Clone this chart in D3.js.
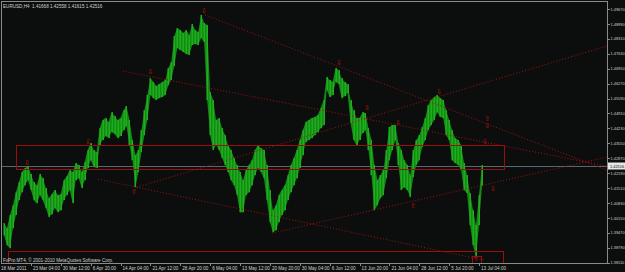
<!DOCTYPE html>
<html>
<head>
<meta charset="utf-8">
<script src="https://cdn.jsdelivr.net/npm/d3@7"></script>
<style>
body{margin:0;background:#0b0e0d;}
svg{display:block;}
text{font-family:"Liberation Sans",Arial,sans-serif;}
</style>
</head>
<body>
<svg id="chart"></svg>
<script>
// EURUSD H4 bars (high / low per bar)
var barHigh = [1.3991,1.3968,1.4028,1.4073,1.4132,1.4178,1.4224,1.4242,1.4251,1.4215,
  1.4178,1.4164,1.4215,1.4196,1.4151,1.4105,1.4123,1.4142,1.4119,1.4123,
  1.4187,1.4205,1.4233,1.4224,1.4265,1.4256,1.4224,1.4269,1.4324,1.4356,
  1.4324,1.4315,1.4424,1.4461,1.4470,1.4452,1.4497,1.4479,1.4461,1.4470,
  1.4506,1.4525,1.4461,1.4370,1.4301,1.4324,1.4415,1.4506,1.4575,1.4652,
  1.4634,1.4616,1.4625,1.4634,1.4643,1.4698,1.4725,1.4844,1.4880,1.4871,
  1.4858,1.4871,1.4848,1.4899,1.4871,1.4862,1.4940,1.4903,1.4894,1.4589,
  1.4552,1.4461,1.4470,1.4424,1.4392,1.4347,1.4324,1.4288,1.4256,1.4224,
  1.4187,1.4233,1.4256,1.4278,1.4324,1.4347,1.4333,1.4324,1.4256,1.4142,
  1.4050,1.4073,1.4119,1.4142,1.4164,1.4210,1.4256,1.4288,1.4324,1.4370,
  1.4415,1.4452,1.4461,1.4470,1.4475,1.4484,1.4516,1.4552,1.4657,1.4643,
  1.4634,1.4698,1.4689,1.4652,1.4634,1.4625,1.4552,1.4506,1.4470,1.4470,
  1.4497,1.4493,1.4424,1.4370,1.4256,1.4187,1.4210,1.4233,1.4324,1.4429,
  1.4438,1.4438,1.4356,1.4324,1.4278,1.4256,1.4210,1.4324,1.4370,1.4392,
  1.4429,1.4470,1.4529,1.4552,1.4566,1.4575,1.4561,1.4552,1.4506,1.4461,
  1.4415,1.4379,1.4370,1.4347,1.4265,1.4210,1.4128,1.4050,1.3982,1.4119,
  1.42558];
var barLow = [1.3936,1.3891,1.3877,1.3968,1.4028,1.4096,1.4132,1.4164,1.4187,1.4142,
  1.4096,1.4082,1.4119,1.4096,1.4060,1.4019,1.4032,1.4060,1.4041,1.4050,
  1.4096,1.4119,1.4142,1.4082,1.4187,1.4196,1.4151,1.4187,1.4242,1.4278,
  1.4247,1.4242,1.4347,1.4370,1.4388,1.4379,1.4406,1.4397,1.4379,1.4388,
  1.4415,1.4433,1.4347,1.4278,1.4155,1.4224,1.4315,1.4392,1.4461,1.4575,
  1.4561,1.4552,1.4561,1.4566,1.4575,1.4620,1.4643,1.4707,1.4789,1.4780,
  1.4771,1.4762,1.4757,1.4803,1.4807,1.4803,1.4835,1.4817,1.4552,1.4392,
  1.4324,1.4347,1.4324,1.4288,1.4256,1.4224,1.4187,1.4164,1.4119,1.4041,
  1.4041,1.4119,1.4132,1.4164,1.4210,1.4242,1.4224,1.4196,1.4096,1.3996,
  1.3950,1.3959,1.3996,1.4028,1.4050,1.4096,1.4132,1.4164,1.4196,1.4242,
  1.4301,1.4361,1.4370,1.4379,1.4392,1.4406,1.4424,1.4438,1.4598,1.4566,
  1.4575,1.4634,1.4625,1.4561,1.4570,1.4584,1.4447,1.4370,1.4347,1.4370,
  1.4402,1.4415,1.4324,1.4210,1.4050,1.4073,1.4105,1.4119,1.4196,1.4278,
  1.4324,1.4370,1.4256,1.4142,1.4155,1.4142,1.4110,1.4201,1.4256,1.4278,
  1.4338,1.4370,1.4415,1.4438,1.4461,1.4497,1.4475,1.4470,1.4392,1.4370,
  1.4278,1.4265,1.4256,1.4233,1.4142,1.4128,1.3982,1.3891,1.3836,1.3982,
  1.41615];

var priceTicks = [1.38110,1.38790,1.39470,1.40150,1.40830,1.41510,1.42190,1.42870,1.43550,
  1.44230,1.44910,1.45590,1.46270,1.46950,1.47630,1.48310,1.48990,1.49670];
var timeLabels = ["18 Mar 2011","23 Mar 04:00","30 Mar 12:00","6 Apr 20:00","14 Apr 04:00",
  "21 Apr 12:00","28 Apr 20:00","6 May 04:00","13 May 12:00","20 May 20:00","30 May 04:00",
  "6 Jun 12:00","13 Jun 20:00","21 Jun 04:00","28 Jun 12:00","5 Jul 20:00","13 Jul 04:00"];
var timeLabelBars = [-1,9,19,29,39,49,59,69,79,89,99,109,119,129,139,149,159];

var symbol = "EURUSD,H4";
var lastOHLC = [1.41668, 1.42558, 1.41615, 1.42516];
var copyright = "FxPro MT4, \u00a9 2001-2010 MetaQuotes Software Corp.";

// trend lines: [bar1, price1, bar2, price2]
var trendLines = [
  [44.5, 1.4155, 201.8, 1.4798],
  [31.5, 1.4192, 161.0, 1.3822],
  [67.3, 1.4940, 201.8, 1.4233],
  [39.8, 1.4684, 201.8, 1.4251],
  [89.7, 1.3946, 201.8, 1.4292]
];
// rectangles: [bar1, price1, bar2, price2]
var boxes = [
  [4.0, 1.4347, 167.4, 1.4237],
  [1.3, 1.3864, 167.0, 1.3809],
  [156.7, 1.3841, 159.7, 1.3809]
];
// fractal arrows: [bar, price, direction]
var arrows = [
  [7.7, 1.4269, "down"], [28.1, 1.4361, "down"], [43.5, 1.4137, "up"],
  [48.9, 1.4680, "down"], [66.9, 1.4962, "down"], [112.1, 1.4725, "down"],
  [121.5, 1.4520, "down"], [131.9, 1.4452, "down"], [145.6, 1.4593, "down"],
  [161.7, 1.4470, "up"], [161.7, 1.4438, "down"], [161.0, 1.4361, "down"],
  [163.7, 1.4151, "down"], [136.9, 1.4073, "up"], [158.0, 1.3832, "up"]
];

var w = 625, h = 272;
var plotL = 2, plotT = 2, plotR = 607, plotB = 263;

var svg = d3.select("#chart").attr("width", w).attr("height", h);
svg.append("rect").attr("width", w).attr("height", h).attr("fill", "#0b0e0d");

var x = d3.scaleLinear().domain([0, barHigh.length - 1]).range([4, 482]);
var y = d3.scaleLinear().domain([priceTicks[0], priceTicks[priceTicks.length - 1]]).range([262.7, 9]);

svg.append("clipPath").attr("id", "plot")
  .append("rect").attr("x", plotL).attr("y", plotT)
  .attr("width", plotR - plotL).attr("height", plotB - plotT);

var plot = svg.append("g").attr("clip-path", "url(#plot)");

// bid line
var bidY = Math.round(y(lastOHLC[3])) + 0.5;
plot.append("line")
  .attr("x1", plotL).attr("x2", plotR)
  .attr("y1", bidY).attr("y2", bidY)
  .attr("stroke", "#5d6474").attr("stroke-width", 1);

// price band between bar highs and lows
var band = d3.area()
  .x(function(d, i){ return x(i); })
  .y0(function(d, i){ return y(barLow[i]); })
  .y1(function(d){ return y(d); });
plot.append("path")
  .datum(barHigh)
  .attr("d", band)
  .attr("fill", "#138a13");

// bars
plot.selectAll("rect.bar")
  .data(barHigh)
  .enter()
  .append("rect")
    .attr("class", "bar")
    .attr("x", function(d, i){ return Math.round(x(i)) - 0.5; })
    .attr("y", function(d){ return y(d); })
    .attr("width", 1.5)
    .attr("height", function(d, i){ return Math.max(1, y(barLow[i]) - y(d)); })
    .attr("fill", "#1fae1f");

// rectangles
plot.selectAll("rect.box")
  .data(boxes)
  .enter()
  .append("rect")
    .attr("class", "box")
    .attr("x", function(d){ return Math.round(x(d[0])) + 0.5; })
    .attr("y", function(d){ return Math.round(y(d[1])) + 0.5; })
    .attr("width", function(d){ return Math.round(x(d[2]) - x(d[0])); })
    .attr("height", function(d){ return Math.round(y(d[3]) - y(d[1])); })
    .attr("fill", "none")
    .attr("stroke", "#9c0d0d")
    .attr("stroke-width", 1);

// trend lines
plot.selectAll("line.trend")
  .data(trendLines)
  .enter()
  .append("line")
    .attr("class", "trend")
    .attr("x1", function(d){ return x(d[0]); })
    .attr("y1", function(d){ return y(d[1]); })
    .attr("x2", function(d){ return x(d[2]); })
    .attr("y2", function(d){ return y(d[3]); })
    .attr("stroke", "#a80e0e")
    .attr("stroke-width", 1)
    .attr("stroke-dasharray", "1,2");

// arrows
plot.selectAll("text.arrow")
  .data(arrows)
  .enter()
  .append("text")
    .attr("class", "arrow")
    .attr("x", function(d){ return x(d[0]); })
    .attr("y", function(d){ return y(d[1]) + 2.5; })
    .attr("text-anchor", "middle")
    .style("font-family", "DejaVu Sans")
    .style("font-size", "7px")
    .attr("fill", "#c01010")
    .text(function(d){ return d[2] == "down" ? "\u21e9" : "\u21e7"; });

// frame
svg.append("rect")
  .attr("x", 1.5).attr("y", 1.5)
  .attr("width", plotR - 1.5 + 0.5).attr("height", plotB - 1.5 + 0.5)
  .attr("fill", "none").attr("stroke", "#8a8a8a").attr("stroke-width", 1);

// price axis
var pAxis = svg.append("g");
pAxis.selectAll("line")
  .data(priceTicks)
  .enter()
  .append("line")
    .attr("x1", plotR + 0.5).attr("x2", plotR + 3)
    .attr("y1", function(d){ return Math.round(y(d)) + 0.5; })
    .attr("y2", function(d){ return Math.round(y(d)) + 0.5; })
    .attr("stroke", "#8a8a8a");
pAxis.selectAll("text")
  .data(priceTicks)
  .enter()
  .append("text")
    .attr("x", 610.5)
    .attr("y", function(d){ return y(d) + 1.6; })
    .attr("fill", "#cfcfcf")
    .style("font-size", "3.9px")
    .text(function(d){ return d3.format(".5f")(d); });

// current price tag
var tagY = y(lastOHLC[3]);
svg.append("rect")
  .attr("x", 608).attr("y", tagY - 3.5)
  .attr("width", 17).attr("height", 7)
  .attr("fill", "#e6e6e6");
svg.append("text")
  .attr("x", 610).attr("y", tagY + 1.6)
  .attr("fill", "#000")
  .style("font-size", "3.9px")
  .text(d3.format(".5f")(lastOHLC[3]));

// time axis
var tAxis = svg.append("g");
tAxis.selectAll("line")
  .data(timeLabelBars.slice(1))
  .enter()
  .append("line")
    .attr("x1", function(d){ return Math.round(x(d)) + 0.5; })
    .attr("x2", function(d){ return Math.round(x(d)) + 0.5; })
    .attr("y1", plotB).attr("y2", plotB + 3)
    .attr("stroke", "#8a8a8a");
tAxis.selectAll("text")
  .data(timeLabels)
  .enter()
  .append("text")
    .attr("x", function(d, i){ return i == 0 ? 1 : x(timeLabelBars[i]) + 2; })
    .attr("y", 269.5)
    .attr("fill", "#cfcfcf")
    .style("font-size", "4.6px")
    .text(function(d){ return d; });

// header and copyright
svg.append("text")
  .attr("x", 3).attr("y", 7.5)
  .attr("fill", "#d0d0d0")
  .style("font-size", "4.6px")
  .attr("xml:space", "preserve")
  .text(symbol + "  " + lastOHLC.map(d3.format(".5f")).join(" "));
svg.append("text")
  .attr("x", 3).attr("y", 261.5)
  .attr("fill", "#d0d0d0")
  .style("font-size", "4.6px")
  .text(copyright);
</script>
</body>
</html>
